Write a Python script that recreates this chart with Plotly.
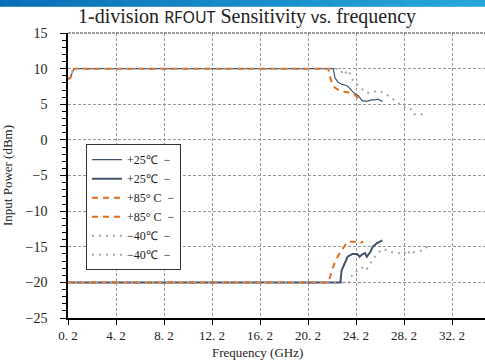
import plotly.graph_objects as go

# ---------------- data ----------------
f25_up = [0.2, 0.4, 0.7, 22.3, 22.45, 22.7, 23.0, 23.45, 23.7, 23.95, 24.4, 24.7, 25.1, 25.5, 25.8, 26.0, 26.4]
p25_up = [8.6, 8.8, 10.0, 10.0, 8.7, 8.1, 7.8, 7.6, 7.2, 6.7, 6.2, 5.5, 5.4, 5.6, 5.6, 5.7, 5.4]

f25_lo = [0.2, 22.9, 23.0, 23.3, 23.5, 23.9, 24.3, 24.5, 24.7, 24.95, 25.1, 25.4, 25.6, 25.95, 26.4]
p25_lo = [-20, -20, -18.3, -17.1, -16.4, -16.0, -16.0, -16.4, -16.1, -15.9, -16.4, -15.7, -15.0, -14.5, -14.1]

f85_up = [0.2, 0.4, 0.7, 21.9, 22.05, 22.2, 22.45, 22.85, 23.45, 23.95, 24.3, 24.5]
p85_up = [8.5, 8.7, 10.0, 10.0, 8.8, 8.0, 7.3, 6.9, 6.7, 6.6, 6.0, 5.6]

f85_lo = [0.2, 21.9, 22.2, 22.45, 22.9, 23.3, 23.5, 24.1, 24.5, 24.8]
p85_lo = [-20, -20, -18.3, -17.1, -15.7, -14.7, -14.3, -14.3, -14.5, -14.3]

f40_up = [0.2, 0.7, 22.8, 23.2, 23.5, 23.8, 24.0, 24.4, 24.8, 25.1, 25.5, 25.95, 26.4, 26.8, 27.2, 27.6, 28.0, 28.45, 28.8, 29.0, 29.6, 30.1]
p40_up = [8.6, 10.0, 10.0, 9.1, 9.8, 9.0, 8.1, 7.6, 7.0, 6.6, 6.6, 6.9, 6.7, 6.3, 5.9, 5.2, 5.0, 4.3, 4.3, 3.6, 3.6, 3.6]

f40_lo = [0.2, 23.6, 23.8, 24.1, 24.5, 24.9, 25.1, 25.4, 25.7, 26.0, 26.45, 26.9, 27.45, 27.8, 28.1, 28.5, 28.7, 28.95, 29.4, 29.8, 30.2]
p40_lo = [-20, -20, -19.2, -18.5, -18.3, -17.7, -18.1, -17.3, -16.6, -15.9, -15.3, -15.6, -15.9, -15.9, -15.6, -16.2, -15.5, -15.8, -15.6, -15.5, -14.9]

names = ["+25℃  −", "+25℃  −", "+85° C  −", "+85° C  −", "−40℃  −", "−40℃  −"]

x_ticks = [0.2, 4.2, 8.2, 12.2, 16.2, 20.2, 24.2, 28.2, 32.2]
x_ticktext = ["0. 2", "4. 2", "8. 2", "12. 2", "16. 2", "20. 2", "24. 2", "28. 2", "32. 2"]
y_ticks = [15, 10, 5, 0, -5, -10, -15, -20, -25]

SERIF = "Liberation Serif"
BLUE = "#44546a"
ORANGE = "#dd6b20"
GRAY = "#a6a6a6"

fig = go.Figure()
series = [
    (f25_up, p25_up, dict(color=BLUE, width=1.2)),
    (f25_lo, p25_lo, dict(color=BLUE, width=2)),
    (f85_up, p85_up, dict(color=ORANGE, width=2, dash="6px,5px")),
    (f85_lo, p85_lo, dict(color=ORANGE, width=2, dash="6px,5px")),
    (f40_up, p40_up, dict(color=GRAY, width=2, dash="2px,5px")),
    (f40_lo, p40_lo, dict(color=GRAY, width=2, dash="2px,5px")),
]
for (fx, py, ln), nm in zip(series, names):
    fig.add_trace(go.Scatter(x=fx, y=py, mode="lines", line=ln, name=nm))

# top banner (gradient approximated by strips)
n = 30
c0 = (8, 110, 180)
c1 = (40, 170, 220)
for i in range(n):
    t = i / (n - 1)
    col = "rgb(%d,%d,%d)" % tuple(int(a + (b - a) * t) for a, b in zip(c0, c1))
    fig.add_shape(type="rect", xref="paper", yref="paper",
                  x0=-0.2 + i * 1.25 / n, x1=-0.2 + (i + 1.05) * 1.25 / n,
                  y0=1.092, y1=1.2, fillcolor=col, line=dict(width=0), layer="above")

fig.add_annotation(
    text="1-division <span style='font-family:Noto Sans;font-size:16px'>RFOUT</span> Sensitivity "
         "<span style='font-family:Noto Sans;font-size:16px'>vs.</span> frequency",
    xref="paper", yref="paper", x=0.43, y=1.057, xanchor="center", yanchor="middle",
    showarrow=False, font=dict(family=SERIF, size=20, color="#222"))
fig.add_annotation(text="Frequency (GHz)", xref="paper", yref="paper",
                   x=0.455, y=-0.12, xanchor="center", yanchor="middle",
                   showarrow=False, font=dict(family=SERIF, size=13, color="#222"))

fig.update_layout(
    width=485, height=364,
    margin=dict(l=68, r=0, t=33, b=46),
    paper_bgcolor="white", plot_bgcolor="white",
    font=dict(family=SERIF, size=13, color="#222"),
    showlegend=True,
    legend=dict(x=0.043, y=0.61, xanchor="left", yanchor="top",
                bgcolor="white", bordercolor="#333", borderwidth=1,
                font=dict(family=SERIF, size=12, color="#222"),
                itemwidth=30, tracegroupgap=0),
    xaxis=dict(range=[0.2, 34.95], tickvals=x_ticks, ticktext=x_ticktext,
               showgrid=True, gridcolor="#999", griddash="3px,2px", gridwidth=1,
               showline=True, linecolor="black", linewidth=1.5,
               ticks="outside", ticklen=5, tickcolor="black",
               zeroline=False, tickfont=dict(family=SERIF, size=13)),
    yaxis=dict(range=[-25, 15], tickvals=y_ticks,
               title=dict(text="Input Power (dBm)", font=dict(family=SERIF, size=13), standoff=12),
               showgrid=True, gridcolor="#999", griddash="3px,2px", gridwidth=1,
               showline=True, linecolor="black", linewidth=1.5,
               ticks="outside", ticklen=6, tickcolor="black",
               ticklabelstandoff=10,
               minor=dict(dtick=1, ticks="outside", ticklen=4, tickcolor="black", showgrid=False),
               zeroline=False, tickfont=dict(family=SERIF, size=14)),
)
fig.add_shape(type="line", xref="paper", yref="paper", x0=0, x1=1, y0=1, y1=1,
              line=dict(color="#444", width=1.2, dash="3px,1px"))

fig.write_html("out.html")
